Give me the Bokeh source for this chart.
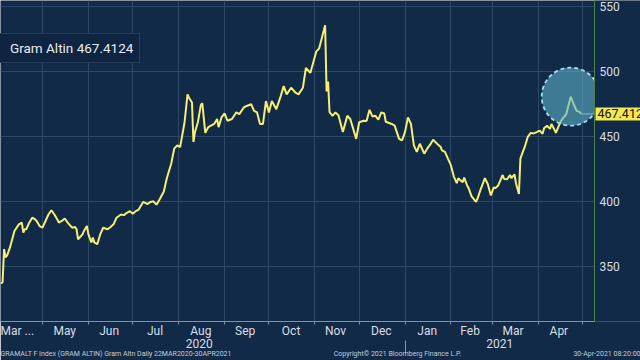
import pandas as pd
from bokeh.plotting import figure
from bokeh.models import (Range1d, FixedTicker, Label, Legend, LegendItem, ColumnDataSource,
                          DatetimeAxis, Span, BoxAnnotation)
from bokeh.embed import file_html
from bokeh.resources import INLINE

dates = [
    "2020-04-03", "2020-04-04", "2020-04-05", "2020-04-06", "2020-04-07", "2020-04-09", "2020-04-12",
    "2020-04-15", "2020-04-17", "2020-04-18", "2020-04-19", "2020-04-20", "2020-04-22", "2020-04-24",
    "2020-04-26", "2020-04-27", "2020-04-29", "2020-05-01", "2020-05-03", "2020-05-05", "2020-05-07",
    "2020-05-09", "2020-05-11", "2020-05-12", "2020-05-14", "2020-05-16", "2020-05-18", "2020-05-19",
    "2020-05-21", "2020-05-23", "2020-05-24", "2020-05-25", "2020-05-28", "2020-05-29", "2020-05-31",
    "2020-06-01", "2020-06-03", "2020-06-04", "2020-06-05", "2020-06-07", "2020-06-09", "2020-06-11",
    "2020-06-14", "2020-06-16", "2020-06-18", "2020-06-20", "2020-06-23", "2020-06-25", "2020-06-27",
    "2020-06-29", "2020-07-01", "2020-07-03", "2020-07-05", "2020-07-08", "2020-07-11", "2020-07-13",
    "2020-07-15", "2020-07-17", "2020-07-19", "2020-07-22", "2020-07-24", "2020-07-27", "2020-07-29",
    "2020-07-31", "2020-08-02", "2020-08-03", "2020-08-05", "2020-08-07", "2020-08-08", "2020-08-10",
    "2020-08-11", "2020-08-12", "2020-08-14", "2020-08-16", "2020-08-17", "2020-08-19", "2020-08-21",
    "2020-08-25", "2020-08-27", "2020-08-28", "2020-08-30", "2020-09-01", "2020-09-03", "2020-09-06",
    "2020-09-09", "2020-09-11", "2020-09-14", "2020-09-16", "2020-09-19", "2020-09-21", "2020-09-23",
    "2020-09-25", "2020-09-27", "2020-09-29", "2020-10-01", "2020-10-03", "2020-10-06", "2020-10-09",
    "2020-10-11", "2020-10-13", "2020-10-16", "2020-10-19", "2020-10-21", "2020-10-24", "2020-10-26",
    "2020-10-29", "2020-11-02", "2020-11-04", "2020-11-08", "2020-11-09", "2020-11-10", "2020-11-11",
    "2020-11-13", "2020-11-15", "2020-11-17", "2020-11-20", "2020-11-23", "2020-11-25", "2020-11-27",
    "2020-11-29", "2020-12-01", "2020-12-04", "2020-12-06", "2020-12-08", "2020-12-10", "2020-12-12",
    "2020-12-14", "2020-12-16", "2020-12-18", "2020-12-19", "2020-12-23", "2020-12-25", "2020-12-28",
    "2020-12-30", "2021-01-01", "2021-01-03", "2021-01-05", "2021-01-07", "2021-01-09", "2021-01-11",
    "2021-01-14", "2021-01-16", "2021-01-18", "2021-01-20", "2021-01-23", "2021-01-25", "2021-01-26",
    "2021-01-28", "2021-01-30", "2021-02-01", "2021-02-03", "2021-02-05", "2021-02-06", "2021-02-09",
    "2021-02-10", "2021-02-12", "2021-02-13", "2021-02-15", "2021-02-18", "2021-02-19", "2021-02-21",
    "2021-02-24", "2021-02-26", "2021-02-28", "2021-03-02", "2021-03-03", "2021-03-05", "2021-03-08",
    "2021-03-09", "2021-03-11", "2021-03-13", "2021-03-14", "2021-03-16", "2021-03-17", "2021-03-19",
    "2021-03-20", "2021-03-22", "2021-03-23", "2021-03-25", "2021-03-27", "2021-03-29", "2021-03-31",
    "2021-04-02", "2021-04-04", "2021-04-05", "2021-04-07", "2021-04-09", "2021-04-10", "2021-04-12",
    "2021-04-13", "2021-04-15", "2021-04-17", "2021-04-20", "2021-04-22", "2021-04-23", "2021-04-25",
    "2021-04-27", "2021-04-29", "2021-04-30",
]
prices = [
    336.4, 337.7, 363.1, 356.8, 358.1, 364.4, 377.1,
    382.2, 383.5, 375.8, 378.4, 378.4, 383.5, 387.3,
    386.0, 384.8, 380.9, 379.6, 384.8, 389.8, 393.1,
    389.8, 386.0, 383.5, 384.8, 386.7, 383.5, 382.2,
    379.6, 380.2, 378.4, 370.7, 374.5, 377.1, 380.9,
    374.5, 368.2, 372.0, 368.2, 366.9, 374.5, 379.6,
    378.4, 380.2, 382.2, 387.3, 389.8, 389.3, 391.1,
    392.4, 390.3, 392.4, 393.6, 399.5, 397.9, 399.5,
    400.0, 397.4, 401.2, 407.6, 417.8, 429.2, 440.6,
    443.1, 441.9, 448.2, 461.0, 482.5, 480.0, 476.2,
    445.7, 453.4, 461.0, 474.2, 475.7, 452.8, 457.2,
    459.7, 463.5, 457.2, 464.8, 467.8, 462.2, 463.5,
    468.6, 467.3, 472.4, 473.6, 474.9, 469.8, 468.6,
    459.7, 459.7, 477.4, 468.6, 477.4, 471.1, 481.2,
    488.9, 482.5, 487.7, 483.8, 482.5, 487.7, 502.9,
    499.1, 515.5, 518.1, 535.9, 484.8, 492.5, 468.8,
    466.0, 468.6, 466.5, 453.4, 466.0, 463.5, 455.9,
    448.2, 461.0, 462.2, 462.0, 470.6, 465.5, 466.0,
    463.0, 468.6, 467.8, 461.4, 459.7, 458.4, 448.2,
    447.0, 453.4, 464.8, 459.7, 443.1, 438.1, 444.4,
    436.8, 440.6, 443.7, 447.5, 444.1, 442.1, 439.3,
    438.1, 433.0, 427.9, 419.1, 414.0, 417.8, 414.7,
    418.3, 412.2, 410.1, 403.8, 399.5, 402.0, 408.8,
    417.8, 413.2, 404.6, 410.7, 410.1, 412.2, 420.3,
    417.2, 417.0, 420.3, 417.8, 420.8, 414.0, 405.6,
    433.0, 439.3, 442.1, 449.8, 452.8, 452.4, 453.4,
    454.6, 452.1, 456.4, 458.4, 455.9, 459.7, 455.3,
    452.8, 458.4, 463.0, 467.3, 476.2, 480.8, 474.9,
    469.8, 469.0, 467.4124,
]
series_name = "Gram Altin"

month_starts = ["2020-05-01", "2020-06-01", "2020-07-01", "2020-08-01", "2020-09-01", "2020-10-01",
                "2020-11-01", "2020-12-01", "2021-01-01", "2021-02-01", "2021-03-01", "2021-04-01",
                "2021-05-01"]
label_dates = ["2020-04-08", "2020-05-16", "2020-06-15", "2020-07-16", "2020-08-16", "2020-09-15",
               "2020-10-16", "2020-11-15", "2020-12-16", "2021-01-16", "2021-02-14", "2021-03-15",
               "2021-04-15"]
month_labels = ["Mar ...", "May", "Jun", "Jul", "Aug", "Sep", "Oct", "Nov", "Dec", "Jan", "Feb", "Mar", "Apr"]
year_dates = ["2020-08-15", "2021-03-06"]
year_labels = ["2020", "2021"]
year_split = ["2021-01-01"]
y_ticks = [350, 400, 450, 500, 550]

footer_texts = ["GRAMALT F Index (GRAM ALTIN) Gram Altn  Daily 22MAR2020-30APR2021",
                "Copyright\u00a9 2021 Bloomberg Finance L.P.",
                "30-Apr-2021 08:20:00"]
footer_px = [112, 397, 616]   # horizontal centres of the footer texts (pixels)

# ---- styling ----
BG = "#112a47"
GRID = "#2c4866"
YELLOW = "#f5ef73"
TXT = "#d9dee5"
FONT = "Roboto"
W, H = 640, 360
FRAME_W = 594          # width of the data area (value-axis position)
FRAME_H = 325


def ms(s):
    return (pd.Timestamp(s) - pd.Timestamp("1970-01-01")).total_seconds() * 1000.0


x_start = ms("2020-04-02 14:00")
x_end = ms("2021-05-09 02:00")          # right edge of the data area
x_full = x_start + (x_end - x_start) * W / FRAME_W   # room for the right-hand labels


def px_to_x(px):
    return x_start + (x_end - x_start) * px / FRAME_W


src = ColumnDataSource(dict(x=pd.to_datetime(dates), y=prices))

p = figure(width=W, height=H, output_backend="svg", toolbar_location=None,
           x_axis_type="datetime", y_axis_location="right",
           x_range=Range1d(x_start, x_full), y_range=Range1d(307.2, 555.0),
           min_border_left=0, min_border_top=0, min_border_right=0, min_border_bottom=H - FRAME_H)
p.background_fill_color = BG
p.border_fill_color = BG
p.outline_line_color = None

# grids
p.xgrid.ticker = FixedTicker(ticks=[ms(d) for d in month_starts])
p.ygrid.ticker = FixedTicker(ticks=y_ticks)
p.xgrid.grid_line_color = GRID
p.ygrid.grid_line_color = GRID

# cover grid beyond the value axis
p.add_layout(BoxAnnotation(left=x_end, fill_color=BG, fill_alpha=1.0, line_color=None, level="underlay"))

# x axis (months)
label_ms = [ms(d) for d in label_dates]
xa = p.xaxis[0]
xa.ticker = FixedTicker(ticks=label_ms, minor_ticks=[ms(d) for d in month_starts])
xa.major_label_overrides = {t: lab for t, lab in zip(label_ms, month_labels)}
xa.bounds = (x_start, x_end)
xa.major_tick_line_color = None
xa.major_tick_out = 0
xa.major_tick_in = 0
xa.minor_tick_line_color = "#7f93a8"
xa.minor_tick_out = 3
xa.minor_tick_in = 0
xa.axis_line_color = "#7f93a8"
xa.major_label_standoff = -1
xa.major_label_text_color = TXT
xa.major_label_text_font = FONT
xa.major_label_text_font_size = "12px"

# year axis
ym = [ms(d) for d in year_dates]
ya2 = DatetimeAxis(ticker=FixedTicker(ticks=ym, minor_ticks=[ms(d) for d in year_split]),
                   major_label_overrides={t: lab for t, lab in zip(ym, year_labels)},
                   axis_line_color=None, major_tick_line_color=None, major_tick_out=0, major_tick_in=0,
                   minor_tick_line_color="#8a99aa", minor_tick_out=13, minor_tick_in=0,
                   major_label_standoff=-15, major_label_text_color=TXT,
                   major_label_text_font=FONT, major_label_text_font_size="12px")
p.add_layout(ya2, "below")

# footer axis
fx = [px_to_x(v) for v in footer_px]
fa = DatetimeAxis(ticker=FixedTicker(ticks=fx),
                  major_label_overrides={t: lab for t, lab in zip(fx, footer_texts)},
                  axis_line_color=None, major_tick_line_color=None, major_tick_out=0, major_tick_in=0,
                  minor_tick_line_color=None, major_label_standoff=-1, major_label_text_color="#c4ccd6",
                  major_label_text_font=FONT, major_label_text_font_size="7px")
p.add_layout(fa, "below")

# y axis (right)
yax = p.yaxis[0]
yax.ticker = FixedTicker(ticks=y_ticks)
yax.axis_line_color = None
yax.major_tick_line_color = None
yax.major_tick_out = 0
yax.major_tick_in = 0
yax.minor_tick_line_color = None
yax.major_label_standoff = -(W - FRAME_W - 5)
yax.major_label_text_color = TXT
yax.major_label_text_font = FONT
yax.major_label_text_font_size = "12px"

# series
p.line(x="x", y="y", source=src, color=YELLOW, line_width=2)

last_x = ms(dates[-1])
last_v = prices[-1]
p.segment(x0=[last_x], y0=[last_v], x1=[x_end], y1=[last_v], color="#b8c2cc", line_width=1)

# highlight around the April 2021 peak
apr = [(ms(d), v) for d, v in zip(dates, prices) if d >= "2021-04-01"]
pk_x, pk_v = max(apr, key=lambda t: t[1])
p.scatter(x=[pk_x], y=[pk_v], marker="circle", size=58, fill_color="#5fb0c8", fill_alpha=0.6,
          line_color="#a9dcef", line_dash="4 3", line_width=1.8)

# the highlight is cut at the value axis
p.add_layout(BoxAnnotation(left=px_to_x(FRAME_W + 0.5), right=px_to_x(FRAME_W + 8),
                           bottom=455, top=495, fill_color=BG, fill_alpha=1.0, line_color=None))

# value-axis line at the right edge of the data area
p.add_layout(Span(location=x_end, dimension="height", line_color="#4f7f4c", line_width=1))

# legend
sq = p.scatter(x=[], y=[], marker="square", color=YELLOW)
legend = Legend(items=[LegendItem(label=f"{series_name} {last_v}", renderers=[sq])],
                location=(-9, FRAME_H - 67), orientation="vertical",
                glyph_width=12, glyph_height=16, label_standoff=0, padding=6, margin=0, spacing=0,
                label_text_font=FONT, label_text_font_size="13.5px", label_text_color="#e8ecf1",
                background_fill_color="#0e2440", background_fill_alpha=1.0,
                border_line_color="#3a5674", border_line_width=1)
p.add_layout(legend)

# last price tag
p.add_layout(Label(x=FRAME_W + 1, x_units="screen", y=last_v, y_units="data", text=f"{last_v}",
                   text_baseline="middle", text_align="left", text_color="#111111",
                   text_font=FONT, text_font_size="12.5px", padding=2,
                   background_fill_color="#f2ea4e", background_fill_alpha=1.0))

open("out.html", "w").write(file_html(p, INLINE))
